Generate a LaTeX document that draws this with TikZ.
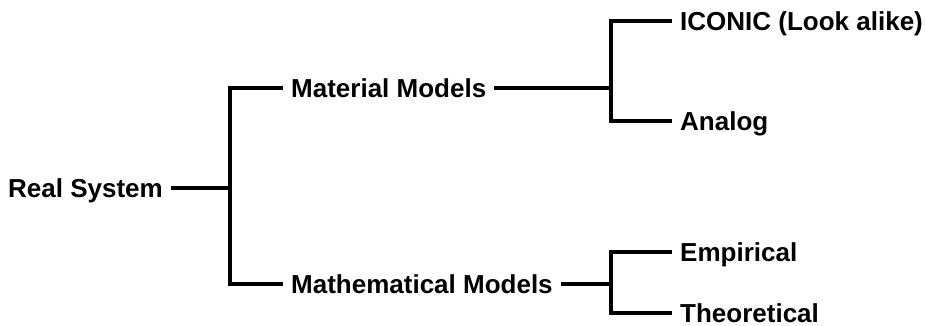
\documentclass[tikz,border=0pt]{standalone}
\usepackage{fontspec}
\setmainfont{Liberation Sans}
\begin{document}
\begin{tikzpicture}[x=1pt,y=-1pt,
  lbl/.style={anchor=west,inner xsep=8pt,inner ysep=0pt,text height=18.5pt,text depth=0pt,
    font=\fontsize{26}{30}\selectfont\bfseries},
  conn/.style={line width=3.4pt,line join=miter}]
\fill[white] (0,0) rectangle (926,326);
\useasboundingbox (0,0) rectangle (926,326);
\node[lbl] (rs) at (0,188) {Real System};
\node[lbl] (mat) at (283,88) {Material Models};
\node[lbl] (math) at (283,284) {Mathematical Models};
\node[lbl] (ico) at (672,21) {ICONIC (Look alike)};
\node[lbl] (ana) at (672,121) {Analog};
\node[lbl] (emp) at (672,252) {Empirical};
\node[lbl] (theo) at (672,313) {Theoretical};
\coordinate (j1) at (230,188);
\coordinate (j2) at (611,88);
\coordinate (j3) at (611,284);
\draw[conn] (rs.east) -- (j1);
\draw[conn] (mat.west) -- (j1 |- mat.west) -- (j1 |- math.west) -- (math.west);
\draw[conn] (mat.east) -- (j2);
\draw[conn] (ico.west) -- (j2 |- ico.west) -- (j2 |- ana.west) -- (ana.west);
\draw[conn] (math.east) -- (j3);
\draw[conn] (emp.west) -- (j3 |- emp.west) -- (j3 |- theo.west) -- (theo.west);
\end{tikzpicture}
\end{document}
